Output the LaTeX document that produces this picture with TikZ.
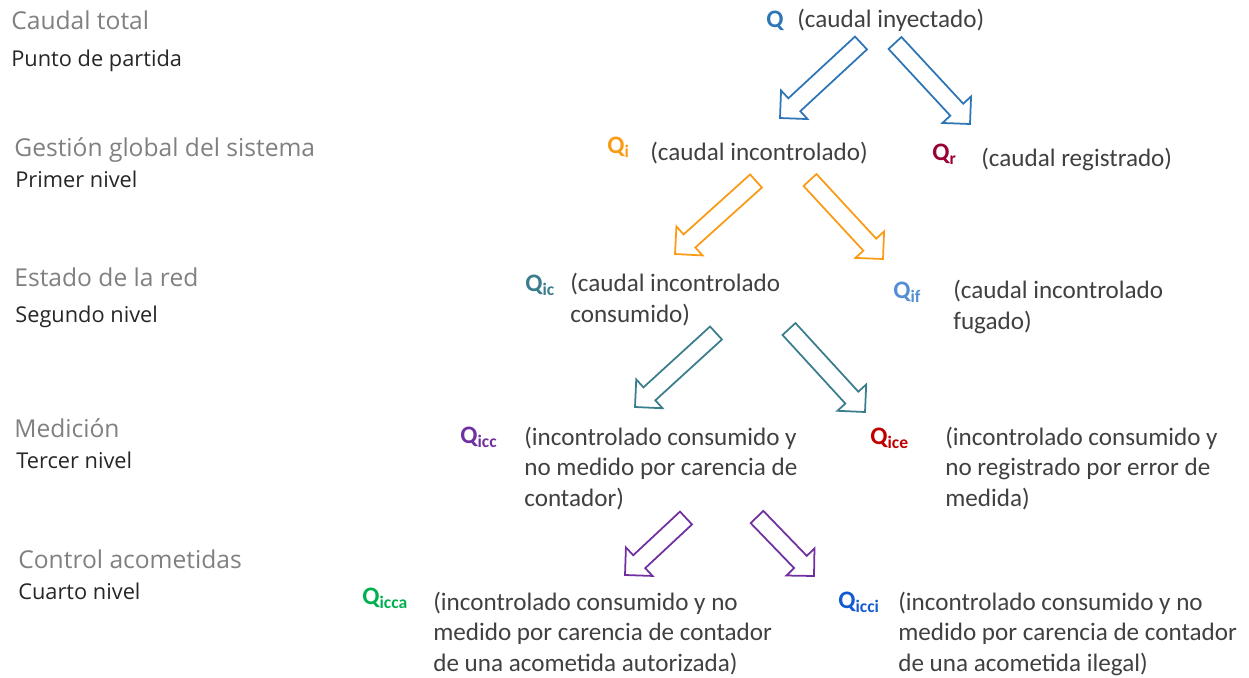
\documentclass[tikz,border=0pt]{standalone}
\usepackage{fontspec}
\setmainfont{Carlito}
\newfontfamily\nivelfont{Open Sans}
\usetikzlibrary{calc}
\definecolor{caudaltexto}{RGB}{64,64,64}
\definecolor{nivelgris}{RGB}{128,128,128}
\definecolor{niveloscuro}{RGB}{38,38,38}
\definecolor{qazul}{RGB}{46,117,182}
\definecolor{qnaranja}{RGB}{250,155,20}
\definecolor{qgranate}{RGB}{153,0,51}
\definecolor{qteal}{RGB}{58,125,140}
\definecolor{qceleste}{RGB}{85,142,213}
\definecolor{qmorado}{RGB}{112,48,160}
\definecolor{qrojo}{RGB}{192,0,0}
\definecolor{qverde}{RGB}{0,176,80}
\definecolor{qreal}{RGB}{20,90,210}

% Q con subindice
\newcommand{\qsub}[1]{Q\raisebox{-0.35ex}{\fontsize{10}{10}\selectfont #1}}
% flecha hueca: color, cola, punta
\newcommand{\flechahueca}[3]{%
  \path ($(#3)!0.39cm!(#2)$) coordinate (fb);
  \draw[hueca,draw=#1] ($(#2)!0.176cm!90:(#3)$) -- ($(fb)!0.176cm!90:(#3)$)
    -- ($(fb)!0.39cm!90:(#3)$) -- (#3) -- ($(fb)!0.39cm!-90:(#3)$)
    -- ($(fb)!0.176cm!-90:(#3)$) -- ($(#2)!0.176cm!-90:(#3)$) -- cycle;
}

\begin{document}
\begin{tikzpicture}[
    x=0.02cm,y=-0.02cm,
    desc/.style={anchor=base west,align=left,inner sep=0pt,text=caudaltexto,font=\fontsize{14.3}{17.1}\selectfont},
    qlab/.style={anchor=base west,inner sep=0pt,font=\fontsize{14.3}{17.1}\selectfont\bfseries},
    titulo/.style={anchor=base west,inner sep=0pt,text=nivelgris,font=\nivelfont\fontsize{14}{17}\selectfont},
    subtitulo/.style={anchor=base west,inner sep=0pt,text=niveloscuro,font=\nivelfont\fontsize{12.4}{15}\selectfont},
    hueca/.style={line width=1pt,fill=white}
  ]
  \useasboundingbox (0,0) rectangle (1249,677);

  % niveles
  \node[titulo] (t0) at (11,29) {Caudal total};
  \node[subtitulo] (s0) at (11,66) {Punto de partida};
  \node[titulo] (t1) at (14,156) {Gestión global del sistema};
  \node[subtitulo] (s1) at (15,187) {Primer nivel};
  \node[titulo] (t2) at (14,286) {Estado de la red};
  \node[subtitulo] (s2) at (15,322) {Segundo nivel};
  \node[titulo] (t3) at (14,437) {Medición};
  \node[subtitulo] (s3) at (16,468) {Tercer nivel};
  \node[titulo] (t4) at (18,568) {Control acometidas};
  \node[subtitulo] (s4) at (18,599) {Cuarto nivel};

  % caudales (base en la ultima linea)
  \node[qlab,text=qazul] (q) at (766,27) {Q};
  \node[desc] (qd) at (797,27) {(caudal inyectado)};
  \node[qlab,text=qnaranja] (qi) at (607,153) {\qsub{i}};
  \node[desc] (qid) at (650,160) {(caudal incontrolado)};
  \node[qlab,text=qgranate] (qr) at (932,160) {\qsub{r}};
  \node[desc] (qrd) at (981,166) {(caudal registrado)};
  \node[qlab,text=qteal] (qic) at (525,291) {\qsub{ic}};
  \node[desc] (qicd) at (570,322) {(caudal incontrolado\\consumido)};
  \node[qlab,text=qceleste] (qif) at (893,298) {\qsub{if}};
  \node[desc] (qifd) at (953,329) {(caudal incontrolado\\fugado)};
  \node[qlab,text=qmorado] (qicc) at (460,443) {\qsub{icc}};
  \node[desc] (qiccd) at (524,506) {(incontrolado consumido y\\no medido por carencia de\\contador)};
  \node[qlab,text=qrojo] (qice) at (870,444) {\qsub{ice}};
  \node[desc] (qiced) at (945,506) {(incontrolado consumido y\\no registrado por error de\\medida)};
  \node[qlab,text=qverde] (qicca) at (362,604) {\qsub{icca}};
  \node[desc] (qiccad) at (433,671) {(incontrolado consumido y no\\medido por carencia de contador\\de una acometida autorizada)};
  \node[qlab,text=qreal] (qicci) at (838,608) {\qsub{icci}};
  \node[desc] (qiccid) at (898,671) {(incontrolado consumido y no\\medido por carencia de contador\\de una acometida ilegal)};

  % extremos de las flechas
  \coordinate (a1) at (861,43);  \coordinate (b1) at (780,118);
  \coordinate (a2) at (895,43);  \coordinate (b2) at (970,124);
  \coordinate (a3) at (756,181); \coordinate (b3) at (675,254);
  \coordinate (a4) at (810,180); \coordinate (b4) at (883,259);
  \coordinate (a5) at (716,333); \coordinate (b5) at (635,407);
  \coordinate (a6) at (789,329); \coordinate (b6) at (865,412);
  \coordinate (a7) at (686,518); \coordinate (b7) at (625,575);
  \coordinate (a8) at (757,517); \coordinate (b8) at (814,576);

  \foreach \c/\a/\b in {qazul/a1/b1,qazul/a2/b2,qnaranja/a3/b3,qnaranja/a4/b4,
                        qteal/a5/b5,qteal/a6/b6,qmorado/a7/b7,qmorado/a8/b8}
    \flechahueca{\c}{\a}{\b};
\end{tikzpicture}
\end{document}
